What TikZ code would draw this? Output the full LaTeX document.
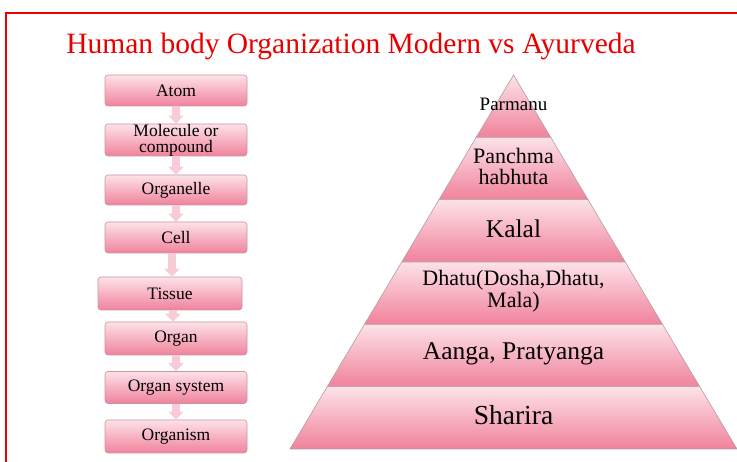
\documentclass[tikz,border=0pt]{standalone}
\usepackage{fontspec}
\setmainfont{Liberation Serif}
\usetikzlibrary{arrows.meta}
\definecolor{titlered}{HTML}{E80000}
\definecolor{frameRed}{HTML}{F00000}
\definecolor{pinkTop}{HTML}{FDE2E8}
\definecolor{pinkBot}{HTML}{F0829C}
\definecolor{pinkEdge}{HTML}{C9959F}
\definecolor{arrowPink}{HTML}{F8CCD6}
\definecolor{layerEdge}{HTML}{B49CA2}
\tikzset{
  levelbox/.style={draw=pinkEdge, line width=0.6pt, rounded corners=3pt,
    top color=pinkTop, bottom color=pinkBot, minimum width=142pt,
    minimum height=31pt, inner sep=0pt, align=center,
    font=\fontsize{17.5}{16}\selectfont},
  downarrow/.style={arrowPink, line width=8pt,
    -{Triangle[width=15pt,length=8pt]}},
  layer/.style={draw=layerEdge, line width=0.6pt, top color=pinkTop,
    bottom color=pinkBot},
  layertext/.style={align=center, inner sep=0pt}
}
\begin{document}
\begin{tikzpicture}[x=1pt,y=-1pt]
  \useasboundingbox (0,0) rectangle (737,462);
  % frame and title
  \draw[frameRed, line width=2pt] (6,470) -- (6,13) -- (745,13);
  \node[anchor=base, text=titlered, font=\fontsize{29.5}{30}\selectfont] (title) at (351,54)
    {Human body Organization Modern vs Ayurveda};

  % modern levels
  \node[levelbox] (atom) at (176,90.5) {Atom};
  \node[levelbox, minimum height=32pt] (molecule) at (176,140) {Molecule or\\compound};
  \node[levelbox, minimum height=30pt] (organelle) at (176,190) {Organelle};
  \node[levelbox] (cell) at (176,237.5) {Cell};
  \node[levelbox, minimum width=144pt, minimum height=33pt] (tissue) at (170,293.5) {Tissue};
  \node[levelbox, minimum height=33pt] (organ) at (176,338.5) {Organ};
  \node[levelbox, minimum height=32pt] (organsys) at (176,387.5) {Organ system};
  \node[levelbox, minimum height=33pt] (organism) at (176,436.5) {Organism};

  \draw[downarrow] (atom.south) -- (molecule.north);
  \draw[downarrow] (molecule.south) -- (organelle.north);
  \draw[downarrow] (organelle.south) -- (cell.north);
  \draw[downarrow] ([xshift=-4pt]cell.south) -- ([xshift=-4pt]cell.south |- tissue.north);
  \draw[downarrow] ([xshift=3pt]tissue.south) -- ([xshift=3pt]tissue.south |- organ.north);
  \draw[downarrow] (organ.south) -- (organsys.north);
  \draw[downarrow] (organsys.south) -- (organism.north);

  % ayurveda pyramid
  \foreach \i in {0,...,5} {
    \pgfmathsetmacro\ytop{75+62.33*\i}
    \pgfmathsetmacro\ybot{75+62.33*(\i+1)}
    \pgfmathsetmacro\wtop{0.5976*62.33*\i}
    \pgfmathsetmacro\wbot{0.5976*62.33*(\i+1)}
    \path[layer] ({513.5-\wtop},\ytop) -- ({513.5+\wtop},\ytop)
      -- ({513.5+\wbot},\ybot) -- ({513.5-\wbot},\ybot) -- cycle;
  }
  \node[layertext, font=\fontsize{19}{19}\selectfont] (parmanu) at (513.5,104) {Parmanu};
  \node[layertext, font=\fontsize{22}{21}\selectfont] (panch) at (513.5,166) {Panchma\\habhuta};
  \node[layertext, font=\fontsize{25.5}{25}\selectfont] (kalal) at (513.5,229) {Kalal};
  \node[layertext, font=\fontsize{22}{21.5}\selectfont] (dhatu) at (513.5,291) {Dhatu(Dosha,Dhatu,\\Mala)};
  \node[layertext, font=\fontsize{25.5}{25}\selectfont] (aanga) at (513.5,354) {Aanga, Pratyanga};
  \node[layertext, font=\fontsize{27.5}{25}\selectfont] (sharira) at (513.5,415) {Sharira};
\end{tikzpicture}
\end{document}
